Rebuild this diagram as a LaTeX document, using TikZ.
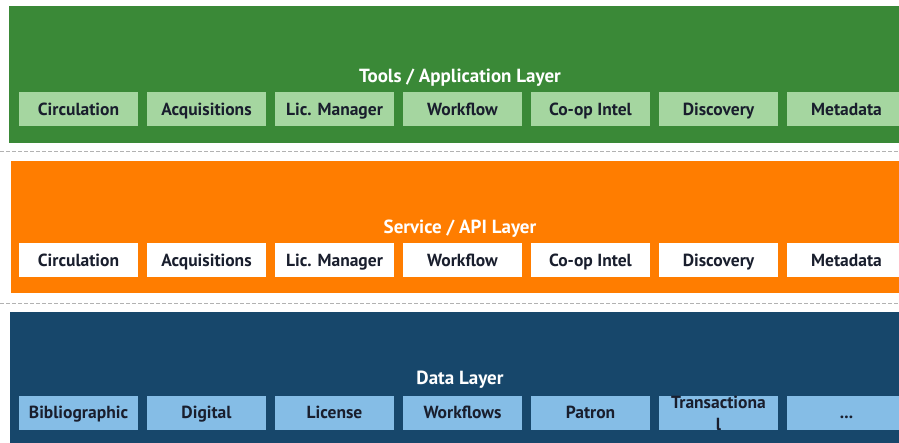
\documentclass[tikz,border=0pt]{standalone}
\usepackage{fontspec}
\setmainfont{PT Sans}
\definecolor{toolgreen}{RGB}{58,137,55}
\definecolor{toolcell}{RGB}{165,214,160}
\definecolor{serviceorange}{RGB}{255,125,0}
\definecolor{datablue}{RGB}{23,71,107}
\definecolor{datacell}{RGB}{133,189,230}
\definecolor{celltext}{RGB}{25,30,45}
\newcommand{\moredata}{...}
\begin{document}
\begin{tikzpicture}[x=1pt,y=-1pt,
  cell/.style={minimum width=119pt,minimum height=34pt,inner sep=0pt,
    text height=12.5pt,text depth=0pt,
    text=celltext,font=\bfseries\fontsize{17.5}{20}\selectfont},
  layername/.style={text=white,text height=13.5pt,text depth=0pt,
    font=\bfseries\fontsize{19}{22}\selectfont},
  divider/.style={gray!60,dashed,dash pattern=on 4pt off 2pt,line width=0.8pt}]
\useasboundingbox (0,0) rectangle (899,443);
\clip (0,0) rectangle (899,443);
% layers
\fill[toolgreen] (9,6) rectangle (899,143);
\fill[serviceorange] (11,161) rectangle (899,293);
\fill[datablue] (10,312) rectangle (899,443);
\draw[divider] (0,151) -- (899,151);
\draw[divider] (0,303) -- (899,303);
\node[layername] (toollayer) at (460,76) {Tools / Application Layer};
\node[layername] (servicelayer) at (460,227) {Service / API Layer};
\node[layername] (datalayer) at (460,378) {Data Layer};
% cells
\foreach \t [count=\i] in {Circulation,Acquisitions,Lic. Manager,Workflow,Co-op Intel,Discovery,Metadata}
  \node[cell,fill=toolcell] (tool\i) at ({78.5+128*(\i-1)},109.5) {\t};
\foreach \t [count=\i] in {Circulation,Acquisitions,Lic. Manager,Workflow,Co-op Intel,Discovery,Metadata}
  \node[cell,fill=white] (service\i) at ({78.5+128*(\i-1)},260.5) {\t};
\foreach \t [count=\i] in {Bibliographic,Digital,License,Workflows,Patron,{},\moredata}
  \node[cell,fill=datacell] (data\i) at ({78.5+128*(\i-1)},412.5) {\t};
% wrapped label, cut off by its box
\begin{scope}
  \clip (data6.south west) rectangle (data6.north east);
  \node[cell,minimum height=0pt,anchor=base] (trans1) at ([yshift=-13pt]data6.north) {Transactiona};
  \node[cell,minimum height=0pt,anchor=base] (trans2) at ([yshift=-35pt]data6.north) {l};
\end{scope}
\end{tikzpicture}
\end{document}
